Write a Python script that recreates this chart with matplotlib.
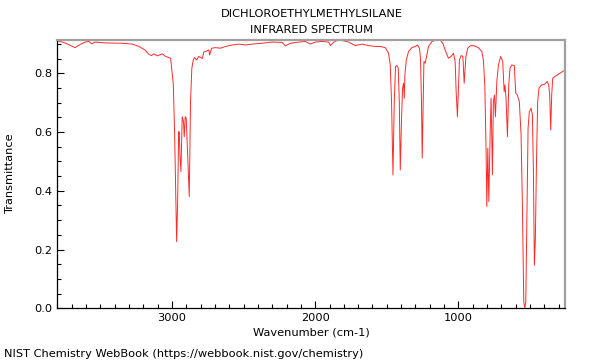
import matplotlib
matplotlib.use('Agg')
import matplotlib.pyplot as plt
from matplotlib.ticker import MultipleLocator

# spectrum (wavenumber in cm-1, transmittance)
wavenumber = [3800, 3764, 3741, 3676, 3636, 3606, 3579, 3560, 3537, 3462,
              3346, 3276, 3230, 3188, 3160, 3142, 3126, 3102, 3067, 3044,
              3009, 2990, 2981, 2972, 2967, 2960, 2953, 2949, 2944, 2937,
              2928, 2919, 2914, 2907, 2900, 2893, 2879, 2870, 2861, 2851,
              2842, 2828, 2812, 2788, 2777, 2765, 2742, 2737, 2723, 2696,
              2661, 2626, 2579, 2533, 2487, 2440, 2370, 2300, 2231, 2208,
              2173, 2115, 2068, 2034, 1999, 1952, 1906, 1894, 1871, 1836,
              1801, 1767, 1720, 1673, 1627, 1581, 1546, 1511, 1488, 1476,
              1467, 1457, 1448, 1439, 1429, 1420, 1413, 1406, 1397, 1390,
              1383, 1378, 1374, 1364, 1348, 1325, 1302, 1286, 1272, 1265,
              1258, 1253, 1246, 1241, 1232, 1225, 1209, 1185, 1151, 1128,
              1109, 1093, 1070, 1051, 1035, 1023, 1016, 1007, 1000, 993,
              981, 969, 960, 948, 935, 918, 895, 861, 837, 826,
              816, 807, 802, 795, 788, 779, 772, 763, 756, 749,
              742, 732, 721, 705, 691, 681, 675, 668, 658, 649,
              640, 628, 610, 600, 589, 575, 563, 554, 544, 537,
              530, 521, 514, 505, 493, 484, 477, 470, 463, 456,
              447, 438, 419, 396, 380, 370, 363, 356, 349, 342,
              326, 310, 291, 272, 254]
transmittance = [0.910, 0.906, 0.902, 0.887, 0.899, 0.906, 0.908, 0.900, 0.906, 0.903,
                 0.902, 0.899, 0.891, 0.879, 0.864, 0.860, 0.866, 0.859, 0.866, 0.857,
                 0.851, 0.760, 0.591, 0.363, 0.227, 0.363, 0.601, 0.601, 0.522, 0.465,
                 0.652, 0.635, 0.584, 0.652, 0.647, 0.556, 0.380, 0.703, 0.817, 0.845,
                 0.853, 0.845, 0.857, 0.850, 0.872, 0.874, 0.879, 0.862, 0.885, 0.887,
                 0.885, 0.891, 0.896, 0.899, 0.896, 0.899, 0.902, 0.906, 0.905, 0.893,
                 0.902, 0.906, 0.908, 0.899, 0.906, 0.908, 0.906, 0.894, 0.906, 0.913,
                 0.910, 0.906, 0.894, 0.899, 0.894, 0.891, 0.891, 0.887, 0.868, 0.828,
                 0.703, 0.454, 0.703, 0.823, 0.826, 0.817, 0.703, 0.471, 0.647, 0.749,
                 0.766, 0.715, 0.794, 0.845, 0.874, 0.887, 0.891, 0.896, 0.885, 0.851,
                 0.703, 0.511, 0.703, 0.840, 0.834, 0.851, 0.891, 0.908, 0.913, 0.913,
                 0.902, 0.879, 0.851, 0.857, 0.868, 0.840, 0.737, 0.652, 0.749, 0.845,
                 0.860, 0.857, 0.766, 0.857, 0.885, 0.893, 0.894, 0.887, 0.874, 0.845,
                 0.760, 0.533, 0.346, 0.545, 0.363, 0.591, 0.715, 0.454, 0.703, 0.726,
                 0.652, 0.772, 0.828, 0.857, 0.840, 0.737, 0.760, 0.715, 0.584, 0.760,
                 0.817, 0.828, 0.826, 0.732, 0.726, 0.703, 0.591, 0.363, 0.022, 0.0,
                 0.022, 0.363, 0.613, 0.669, 0.681, 0.658, 0.477, 0.147, 0.238, 0.477,
                 0.703, 0.749, 0.760, 0.763, 0.772, 0.760, 0.726, 0.607, 0.726, 0.783,
                 0.789, 0.794, 0.800, 0.806, 0.811]

title_lines = ['DICHLOROETHYLMETHYLSILANE', 'INFRARED SPECTRUM']
x_label = 'Wavenumber (cm-1)'
y_label = 'Transmittance'
footer = 'NIST Chemistry WebBook (https://webbook.nist.gov/chemistry)'

fs = 8.2
fig = plt.figure(figsize=(6, 3.6), dpi=100)
ax = fig.add_axes([0.0955, 0.1436, 0.8467, 0.7453])

ax.plot(wavenumber, transmittance, color='#ff2a2a', lw=0.7)
ax.set_xlim(3800, 254)
ax.set_ylim(0, 0.913)

ax.xaxis.set_major_locator(MultipleLocator(1000))
ax.xaxis.set_minor_locator(MultipleLocator(100))
ax.yaxis.set_major_locator(MultipleLocator(0.2))
ax.yaxis.set_minor_locator(MultipleLocator(0.05))
ax.yaxis.set_major_formatter(matplotlib.ticker.FormatStrFormatter('%.1f'))
ax.tick_params(which='both', direction='in', labelsize=fs, top=False, right=False)
ax.tick_params(which='major', length=5, width=0.8)
ax.tick_params(which='minor', length=3, width=0.8)

for side in ['top', 'right']:
    ax.spines[side].set_color('#a0a0a0')
    ax.spines[side].set_linewidth(1.6)
for side in ['left', 'bottom']:
    ax.spines[side].set_linewidth(0.9)

ax.set_xlabel(x_label, fontsize=fs, labelpad=3)
ax.set_ylabel(y_label, fontsize=fs, labelpad=14)
fig.text(0.519, 0.962, title_lines[0], ha='center', va='center', fontsize=fs)
fig.text(0.519, 0.917, title_lines[1], ha='center', va='center', fontsize=fs)
fig.text(0.007, 0.004, footer, ha='left', va='bottom', fontsize=fs)

fig.savefig('out.png', dpi=100)
